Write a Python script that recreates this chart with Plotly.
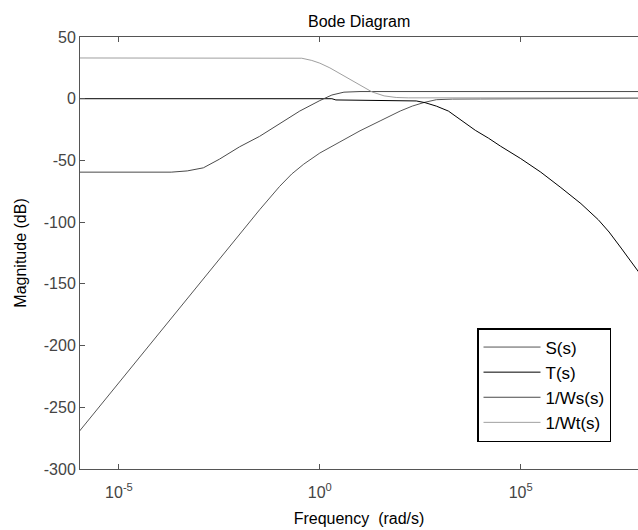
import plotly.graph_objects as go

# ---- data (log10 of frequency in rad/s, magnitude in dB) ----
S_logw = [-6, -5, -4, -3, -2, -1.5, -1.0, -0.7, -0.4, 0.0, 0.5, 1.0, 1.5, 2.0, 2.3, 2.6, 2.9, 3.3, 4.0, 4.27, 4.35, 8.0]
S_db = [-270, -230, -190, -150, -110, -90, -71, -61, -53, -44, -35, -26, -18, -10, -6, -3, -0.8, -0.3, -0.2, -0.2, 0.4, 0.4]

T_logw = [-6, 0.3, 0.4, 2.2, 2.4, 2.62, 2.9, 3.2, 3.5, 3.87, 4.2, 4.5, 5.0, 5.5, 6.0, 6.5, 6.93, 7.2, 7.5, 7.95]
T_db = [0, 0, -1, -1.2, -1.8, -3.2, -6, -10, -17, -25.6, -32, -38.5, -48.5, -59.5, -72, -85, -98, -108, -121, -141]

Ws_logw = [-6, -3.7, -3.3, -2.9, -2.5, -2.0, -1.5, -1.0, -0.5, 0.0, 0.3, 0.6, 1.0, 8.0]
Ws_db = [-59.5, -59.5, -58.5, -56, -49, -39, -30.5, -20, -10, -1.5, 3, 5.3, 5.8, 5.8]

Wt_logw = [-6, -0.6, -0.45, -0.2, 0.0, 0.25, 0.5, 0.75, 1.0, 1.3, 1.6, 1.9, 2.2, 8.0]
Wt_db = [33, 33, 32.8, 31, 28.8, 25, 20.5, 15.5, 11, 5.5, 2.3, 1.0, 0.7, 0.7]

names = ["S(s)", "T(s)", "1/Ws(s)", "1/Wt(s)"]
colors = ["#555555", "#000000", "#4a4a4a", "#a0a0a0"]
series = [(S_logw, S_db), (T_logw, T_db), (Ws_logw, Ws_db), (Wt_logw, Wt_db)]

x_tickvals = [1e-5, 1, 1e5]
x_ticktext = ["10<sup>-5</sup>", "10<sup>0</sup>", "10<sup>5</sup>"]
y_tickvals = [50, 0, -50, -100, -150, -200, -250, -300]
y_ticktext = ["50", "0", "-50", "-100", "-150", "-200", "-250", "-300"]

FONT = "Liberation Sans, Arial, sans-serif"

fig = go.Figure()
for i, (name, col, (lw, db)) in enumerate(zip(names, colors, series)):
    fig.add_trace(go.Scatter(
        x=[10 ** v for v in lw], y=db, mode="lines", name=name,
        line=dict(color=col, width=1), legendgroup=f"g{i}"))

fig.update_layout(
    width=638, height=530,
    margin=dict(l=80, r=0, t=37, b=61),
    paper_bgcolor="white", plot_bgcolor="white",
    font=dict(family=FONT, size=15, color="#333333"),
    showlegend=True,
    legend=dict(
        x=(477 - 80) / 558, y=(469 - 328) / 432, xanchor="left", yanchor="top",
        bgcolor="white", bordercolor="#000000", borderwidth=1.5,
        font=dict(family=FONT, size=17, color="#000000"),
        tracegroupgap=1, traceorder="normal", itemwidth=57,
    ),
    annotations=[
        dict(text="Bode Diagram", x=0.5, xref="paper", y=1, yref="paper",
             yanchor="bottom", yshift=5, showarrow=False,
             font=dict(family=FONT, size=16, color="#000000")),
    ],
)

fig.update_xaxes(
    type="log", range=[-5.97, 7.92],
    tickvals=x_tickvals, ticktext=x_ticktext,
    ticks="inside", ticklen=5, tickcolor="#555555",
    showline=True, linecolor="#555555", linewidth=1, mirror="ticks",
    showgrid=False, zeroline=False, ticklabelstandoff=9,
    tickfont=dict(family=FONT, size=16, color="#444444"),
    title=dict(text="Frequency  (rad/s)", font=dict(family=FONT, size=16, color="#000000"), standoff=12),
)
fig.update_yaxes(
    range=[-300, 50], tickvals=y_tickvals, ticktext=y_ticktext,
    ticks="inside", ticklen=5, tickcolor="#555555",
    showline=True, linecolor="#555555", linewidth=1, mirror=False,
    showgrid=False, zeroline=False,
    tickfont=dict(family=FONT, size=16, color="#444444"),
    title=dict(text="Magnitude (dB)", font=dict(family=FONT, size=16, color="#000000"), standoff=13),
)

fig.write_html("out.html")
